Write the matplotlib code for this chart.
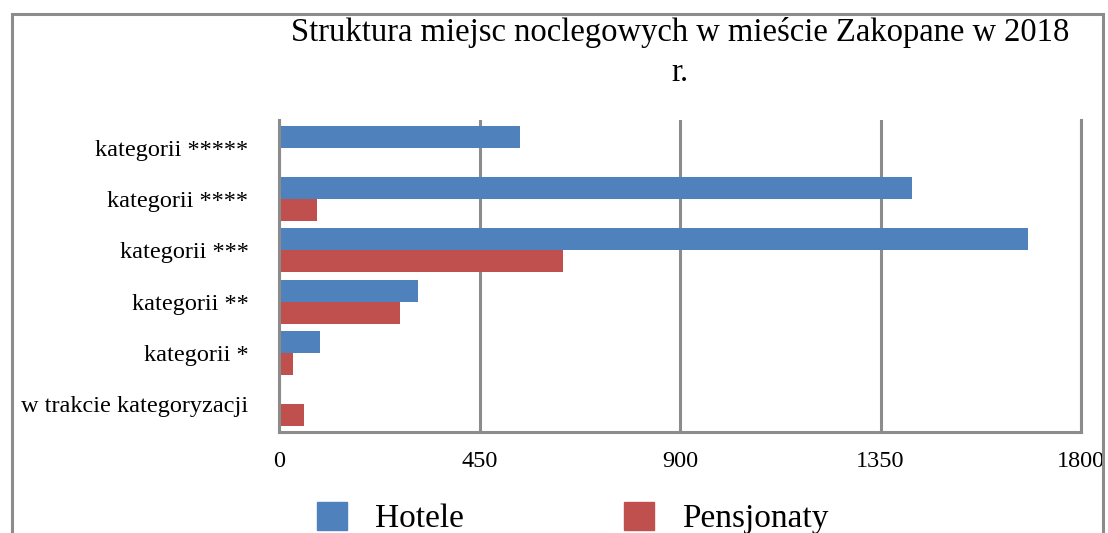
import matplotlib
matplotlib.use('Agg')
import matplotlib.pyplot as plt
from matplotlib.patches import Rectangle, Patch
import numpy as np

categories = [
    'kategorii *****',
    'kategorii ****',
    'kategorii ***',
    'kategorii **',
    'kategorii *',
    'w trakcie kategoryzacji',
]
hotele = [542, 1420, 1681, 313, 92, 0]
pensjonaty = [0, 85, 638, 272, 31, 56]
xticks = [0, 450, 900, 1350, 1800]

blue = '#4F81BD'
red = '#C0504D'
gray = '#8C8C8C'

plt.rcParams['font.family'] = ['Liberation Serif', 'DejaVu Serif']

fig = plt.figure(figsize=(11.08, 5.33), dpi=100)
ax = fig.add_axes([279 / 1108, 1 - 432 / 533, 802 / 1108, 312 / 533])

y = np.arange(len(categories))
h = 0.43
ax.barh(y - h / 2, hotele, height=h, color=blue, label='Hotele')
ax.barh(y + h / 2, pensjonaty, height=h, color=red, label='Pensjonaty')

ax.set_ylim(len(categories) - 0.45, -0.55)
ax.set_xlim(0, 1800)
ax.set_xticks(xticks)
ax.set_xticklabels([str(t) for t in xticks], fontsize=17.5)
ax.set_yticks(y)
ax.set_yticklabels(categories, fontsize=17.5)
ax.tick_params(axis='x', length=0, pad=14)
ax.tick_params(axis='y', length=0, pad=22)

ax.grid(axis='x', color=gray, linewidth=2.2)
ax.set_axisbelow(True)
for side in ['left', 'bottom', 'right']:
    ax.spines[side].set_color(gray)
    ax.spines[side].set_linewidth(2.2)
ax.spines['top'].set_visible(False)

fig.text(680 / 1108, 1 - 17 / 533,
         'Struktura miejsc noclegowych w mieście Zakopane w 2018\nr.',
         ha='center', va='top', fontsize=23.5, linespacing=1.4)

# outer chart frame
fig.patches.append(Rectangle((12 / 1108, -0.1), 1091 / 1108, 1.1 - 14 / 533,
                             transform=fig.transFigure, fill=False,
                             edgecolor=gray, linewidth=2.2))

handles = [Patch(color=blue, label='Hotele'), Patch(color=red, label='Pensjonaty')]
fig.legend(handles=handles, loc='center', bbox_to_anchor=(573 / 1108, 1 - 518 / 533),
           ncol=2, frameon=False, fontsize=24, handlelength=0.9, handleheight=0.9,
           handletextpad=0.85, columnspacing=4.8)

fig.savefig('out.png', dpi=100)
